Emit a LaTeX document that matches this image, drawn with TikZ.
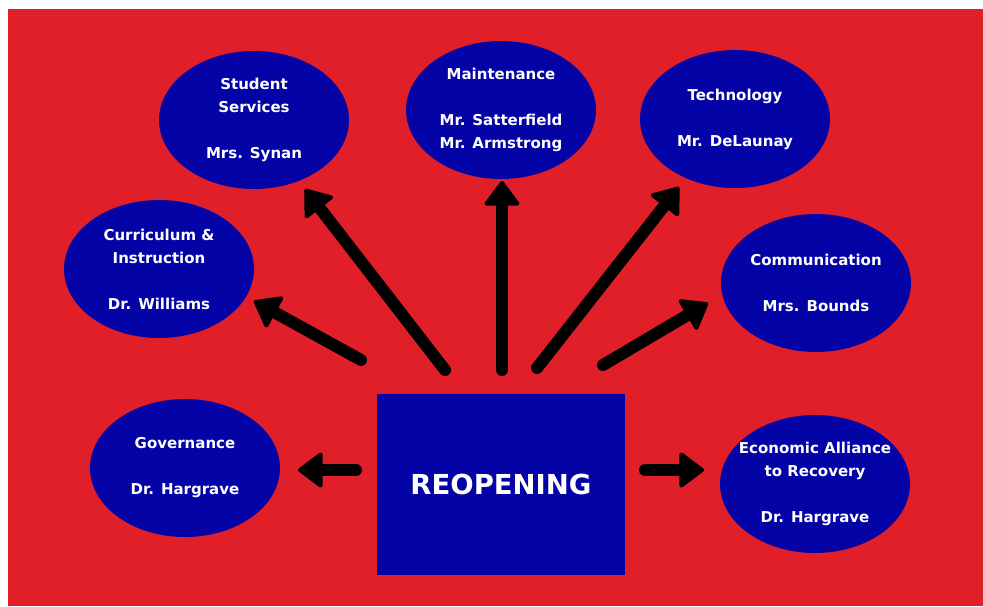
\documentclass[tikz,border=0pt]{standalone}
\usepackage{fontspec}
\setmainfont{DejaVu Sans}
\usetikzlibrary{arrows.meta,shapes.geometric}
\definecolor{bgred}{HTML}{E11F28}
\definecolor{navy}{HTML}{0303A6}
\tikzset{
  team/.style={ellipse, fill=navy, minimum width=190pt, minimum height=138pt,
    inner sep=0pt},
  teamtext/.style={text=white, align=center, inner sep=0pt,
    font=\bfseries\fontsize{15}{23}\selectfont},
  hubbox/.style={rectangle, fill=navy, minimum width=248pt, minimum height=181pt,
    inner sep=0pt, text=white, font=\bfseries\fontsize{27.5}{32}\selectfont},
  link/.style={line width=12pt, line cap=round, black,
    -{Triangle[length=26pt, width=38pt, round, line width=4pt]}},
}
\newcommand{\team}[4]{%
  \node[team, label={[teamtext]center:#4}] (#1) at (#2,#3) {};}
\begin{document}
\begin{tikzpicture}[x=1pt, y=-1pt]
  \useasboundingbox (0,0) rectangle (983,606);
  \fill[white] (0,0) rectangle (983,606);
  \fill[bgred] (8,9) rectangle (983,606);

  % central box
  \node[hubbox] (hub) at (501,484.5) {REOPENING};

  % teams
  \team{ss}{254}{120}{Student\\Services\\[23pt]Mrs. Synan}
  \team{mt}{501}{110}{Maintenance\\[23pt]Mr. Satterfield\\Mr. Armstrong}
  \team{tech}{735}{119}{Technology\\[23pt]Mr. DeLaunay}
  \team{ci}{159}{269}{Curriculum \&\\Instruction\\[23pt]Dr. Williams}
  \team{com}{816}{283}{Communication\\[23pt]Mrs. Bounds}
  \team{gov}{185}{468}{Governance\\[23pt]Dr. Hargrave}
  \team{eco}{815}{484}{Economic Alliance\\to Recovery\\[23pt]Dr. Hargrave}

  % arrow ends
  \coordinate (ss-a)   at (445,370);  \coordinate (ss-b)   at (305,189);
  \coordinate (mt-a)   at (502,370);  \coordinate (mt-b)   at (502,181);
  \coordinate (tech-a) at (537,368);  \coordinate (tech-b) at (679,187);
  \coordinate (ci-a)   at (361,360);  \coordinate (ci-b)   at (254,301);
  \coordinate (com-a)  at (603,365);  \coordinate (com-b)  at (708,303);
  \coordinate (gov-a)  at (356,470);  \coordinate (gov-b)  at (298,470);
  \coordinate (eco-a)  at (645,470);  \coordinate (eco-b)  at (704,470);

  \foreach \n in {ss,mt,tech,ci,com,gov,eco}
    \draw[link] (\n-a) -- (\n-b);
\end{tikzpicture}
\end{document}
